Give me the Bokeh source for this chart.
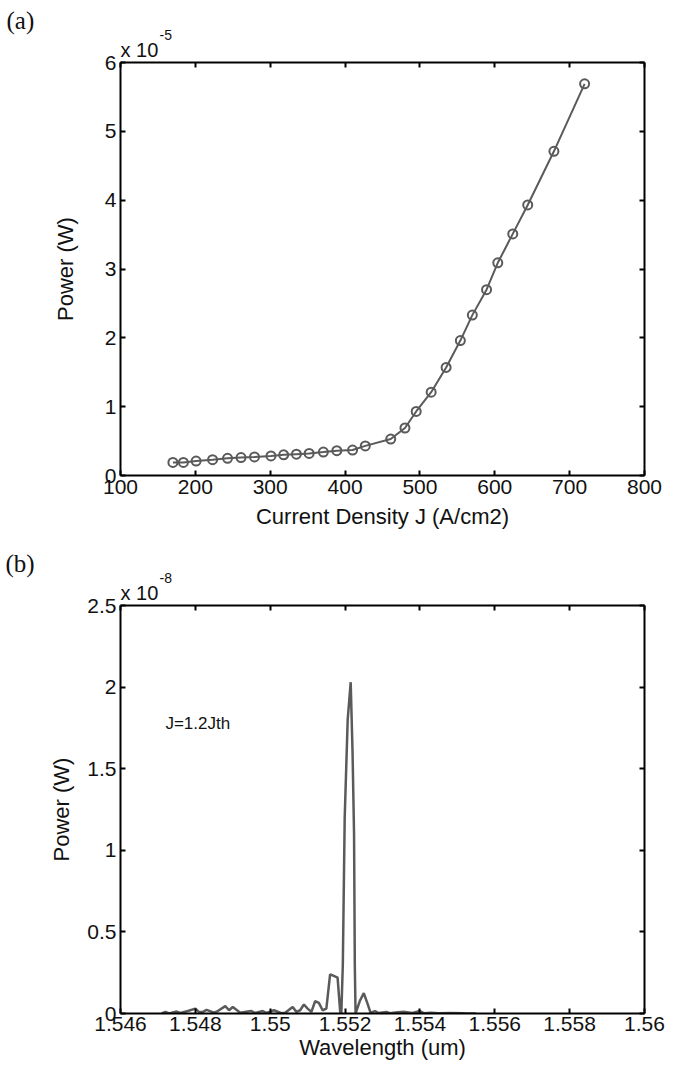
from bokeh.plotting import figure
from bokeh.models import Range1d, LinearAxis, FixedTicker, Label, Title, CustomJSTickFormatter
from bokeh.layouts import column
from bokeh.embed import file_html
from bokeh.resources import INLINE

# ---------------- data: panel (a) ----------------
current_density = [170, 184, 201, 223, 243, 261, 279, 301, 318, 335, 352, 371, 389, 410,
                   427, 461, 480, 495, 515, 535, 554, 570, 589, 604, 624, 644, 679, 720]
power_a = [0.19, 0.19, 0.21, 0.23, 0.25, 0.26, 0.27, 0.285, 0.30, 0.31, 0.32, 0.34, 0.36, 0.37,
           0.43, 0.53, 0.69, 0.93, 1.21, 1.57, 1.96, 2.33, 2.70, 3.09, 3.51, 3.93, 4.71, 5.69]  # x 1e-5 W
xticks_a = [100, 200, 300, 400, 500, 600, 700, 800]
yticks_a = [0, 1, 2, 3, 4, 5, 6]

# ---------------- data: panel (b) ----------------
wavelength = [1.5471, 1.5472, 1.5473, 1.5475, 1.5476, 1.5478, 1.5480, 1.5481, 1.5482, 1.5483,
              1.5485, 1.5486, 1.5488, 1.5489, 1.5490, 1.5492, 1.5494, 1.5495, 1.5496, 1.5498,
              1.5499, 1.5501, 1.5503, 1.5504, 1.5506, 1.5507, 1.5508, 1.5509, 1.5510, 1.5511,
              1.5512, 1.5513, 1.5514, 1.5515, 1.5516, 1.5517, 1.5518, 1.55187, 1.55190, 1.55194,
              1.55199, 1.55207, 1.55215, 1.55220, 1.55224, 1.55226, 1.55228, 1.5524, 1.5525, 1.5526,
              1.55268, 1.5528, 1.5529, 1.5531, 1.5532, 1.5534, 1.5536, 1.5538, 1.5540, 1.5541,
              1.5543, 1.5545, 1.5548, 1.5552, 1.5555]
power_b = [0.0, 0.01, 0.0, 0.012, 0.003, 0.015, 0.03, 0.008, 0.01, 0.022,
           0.005, 0.015, 0.045, 0.02, 0.04, 0.005, 0.012, 0.015, 0.003, 0.015,
           0.004, 0.02, 0.002, 0.005, 0.04, 0.01, 0.02, 0.055, 0.03, 0.01,
           0.075, 0.065, 0.02, 0.03, 0.24, 0.23, 0.22, 0.01, 0.0, 0.3,
           1.2, 1.8, 2.03, 1.6, 1.1, 0.3, 0.0, 0.08, 0.125, 0.06,
           0.005, 0.015, 0.003, 0.01, 0.002, 0.008, 0.01, 0.003, 0.015, 0.002,
           0.005, 0.001, 0.003, 0.001, 0.0]  # x 1e-8 W
xticks_b = [1.546, 1.548, 1.550, 1.552, 1.554, 1.556, 1.558, 1.560]
yticks_b = [0, 0.5, 1.0, 1.5, 2.0, 2.5]

FONT = "Liberation Sans"
LINE = "#5a5a5a"
TXT = "#111111"


def style_axis(ax, ticks, labels=True):
    ax.ticker = FixedTicker(ticks=ticks)
    ax.axis_line_color = "black"
    ax.axis_line_width = 2
    ax.major_tick_in = 5
    ax.major_tick_out = 0
    ax.major_tick_line_width = 2
    ax.major_tick_line_color = "black"
    ax.minor_tick_line_color = None
    ax.major_label_text_font = FONT
    ax.major_label_text_color = TXT
    ax.major_label_text_font_size = "21px"
    if labels:
        ax.formatter = CustomJSTickFormatter(code="return String(parseFloat(tick.toFixed(6)));")
    else:
        ax.formatter = CustomJSTickFormatter(code="return '';")
        ax.major_label_standoff = 0


def make_fig(w, h, xr, yr, ml, mr, mt, mb, xt, yt, xlabel, ylabel, ylab_standoff, xlab_standoff, xtick_standoff):
    p = figure(width=w, height=h, x_range=Range1d(*xr), y_range=Range1d(*yr),
               output_backend="svg", toolbar_location=None,
               min_border_left=ml, min_border_right=mr, min_border_top=mt, min_border_bottom=mb)
    p.outline_line_color = None
    p.xgrid.visible = False
    p.ygrid.visible = False
    style_axis(p.xaxis[0], xt)
    style_axis(p.yaxis[0], yt)
    p.xaxis[0].major_label_standoff = xtick_standoff
    p.yaxis[0].major_label_standoff = 4
    p.xaxis[0].axis_label = xlabel
    p.yaxis[0].axis_label = ylabel
    for ax in (p.xaxis[0], p.yaxis[0]):
        ax.axis_label_text_font = FONT
        ax.axis_label_text_font_size = "22px"
        ax.axis_label_text_font_style = "normal"
        ax.axis_label_text_color = TXT
    p.xaxis[0].axis_label_standoff = xlab_standoff
    p.yaxis[0].axis_label_standoff = ylab_standoff
    top = LinearAxis()
    style_axis(top, xt, labels=False)
    p.add_layout(top, "above")
    right = LinearAxis()
    style_axis(right, yt, labels=False)
    p.add_layout(right, "right")
    return p


def add_titles(p, exponent, panel, panel_offset):
    # "x 10" multiplier, its exponent as a raised smaller text, then the panel letter
    p.add_layout(Title(text="x 10", align="left", offset=0, standoff=4,
                       text_font=FONT, text_font_size="20px", text_font_style="normal",
                       text_color=TXT), "above")
    p.add_layout(Title(text=exponent, align="left", offset=39, standoff=-11,
                       text_font=FONT, text_font_size="14px", text_font_style="normal",
                       text_color=TXT), "above")
    p.add_layout(Title(text=panel, align="left", offset=panel_offset, standoff=0,
                       text_font="Liberation Serif", text_font_size="25px", text_font_style="normal",
                       text_color=TXT), "above")


# ---------------- panel (a) ----------------
p1 = make_fig(667, 537, (100, 800), (0, 6), 116, 23, 62, 62, xticks_a, yticks_a,
              "Current Density J (A/cm2)", "Power (W)", 24, 7, 4)
p1.line(current_density, power_a, line_color=LINE, line_width=2)
p1.scatter(current_density, power_a, marker="circle", size=9, fill_color=None,
           line_color=LINE, line_width=2)
add_titles(p1, "-5", "(a)", -114)

# ---------------- panel (b) ----------------
p2 = make_fig(667, 530, (1.546, 1.560), (0, 2.5), 120, 21, 68, 54, xticks_b, yticks_b,
              "Wavelength (um)", "Power (W)", 10, 1, 3)
p2.line(wavelength, power_b, line_color=LINE, line_width=2.5)
add_titles(p2, "-8", "(b)", -115)
p2.add_layout(Label(x=1.5472, y=1.78, text="J=1.2Jth", text_font=FONT, text_font_size="17px",
                    text_baseline="middle", text_color=TXT))

layout = column(p1, p2, spacing=0)
open("out.html", "w").write(file_html(layout, INLINE))
